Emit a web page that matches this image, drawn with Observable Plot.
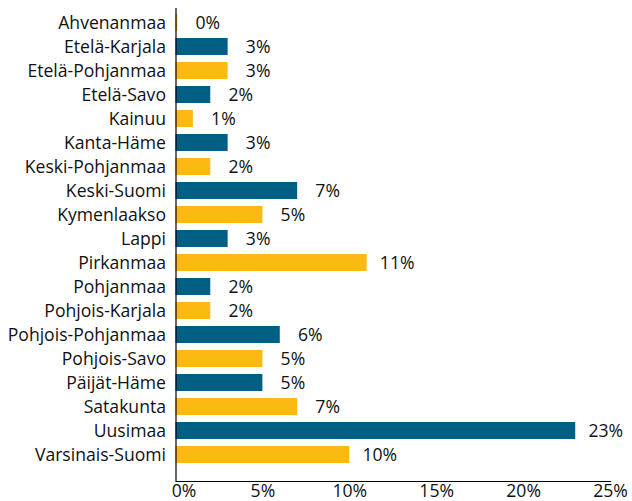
<!DOCTYPE html>
<html>
<head>
<meta charset="utf-8">
<script src="https://cdn.jsdelivr.net/npm/d3@7"></script>
<script src="https://cdn.jsdelivr.net/npm/@observablehq/plot@0.6"></script>
<style>
  html, body { margin: 0; padding: 0; background: #fff; }
  #chart svg { display: block; }
</style>
</head>
<body>
<div id="chart"></div>
<script>
const regions = ["Ahvenanmaa","Etelä-Karjala","Etelä-Pohjanmaa","Etelä-Savo","Kainuu","Kanta-Häme","Keski-Pohjanmaa","Keski-Suomi","Kymenlaakso","Lappi","Pirkanmaa","Pohjanmaa","Pohjois-Karjala","Pohjois-Pohjanmaa","Pohjois-Savo","Päijät-Häme","Satakunta","Uusimaa","Varsinais-Suomi"];
const shares = [0.1, 3, 3, 2, 1, 3, 2, 7, 5, 3, 11, 2, 2, 6, 5, 5, 7, 23, 10];
const colorGroup = ["A","B","A","B","A","B","A","B","A","B","A","B","A","B","A","B","A","B","A"];
const xTicks = [0, 5, 10, 15, 20, 25];

const data = regions.map((r, i) => ({region: r, value: shares[i], group: colorGroup[i]}));
const fmt = d => d + "%";

const chart = Plot.plot({
  width: 632,
  height: 501,
  marginLeft: 175.5,
  marginRight: 22,
  marginTop: 8,
  marginBottom: 20,
  style: {fontFamily: "'Open Sans', sans-serif", fontSize: "17.6px", color: "#111", background: "#fff"},
  x: {domain: [0, 25], label: null},
  y: {domain: regions, range: [10, 466], paddingInner: 0.3, paddingOuter: 0.15, label: null},
  color: {domain: ["A", "B"], range: ["#fdb913", "#005f83"]},
  marks: [
    Plot.axisY({tickSize: 0, tickPadding: 10, fill: "#111", fontSize: 17.6}),
    Plot.axisX(xTicks.slice(0, 1), {tickSize: 0, tickPadding: 3, tickFormat: fmt, dx: 8, fill: "#111", fontSize: 17.6}),
    Plot.axisX(xTicks.slice(1), {tickSize: 0, tickPadding: 3, tickFormat: fmt, fill: "#111", fontSize: 17.6}),
    Plot.barX(data, {x: "value", y: "region", fill: "group"}),
    Plot.text(data, {x: "value", y: "region", text: d => Math.round(d.value) + "%", dx: 30, textAnchor: "middle", fill: "#111", fontSize: 17.6}),
    Plot.ruleX([0], {stroke: "#000", strokeWidth: 1.2}),
    Plot.frame({anchor: "bottom", stroke: "#000", strokeWidth: 1.2})
  ]
});
document.getElementById("chart").appendChild(chart);
</script>
</body>
</html>
